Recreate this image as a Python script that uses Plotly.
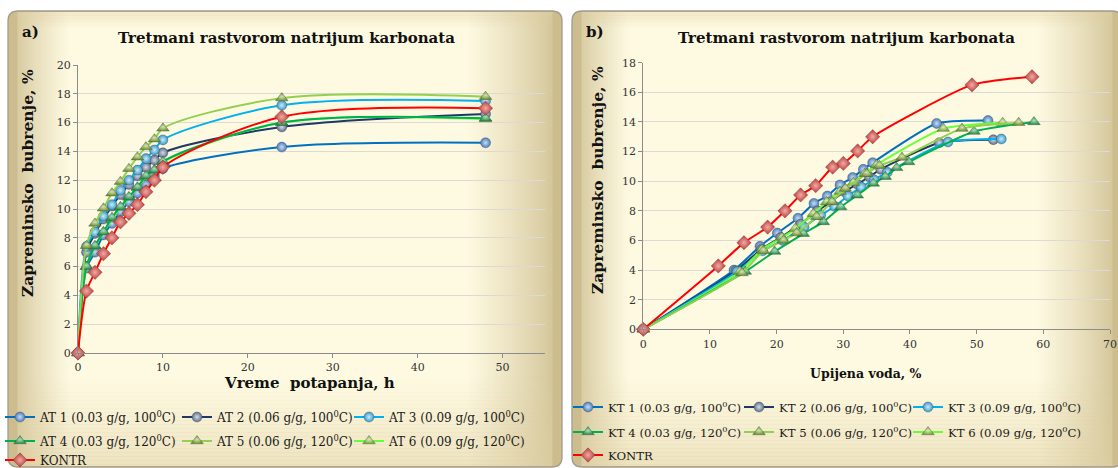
import plotly.graph_objects as go

# ---------------- data ----------------
# panel a: swelling vs immersion time
vreme_h = [0, 1, 2, 3, 4, 5, 6, 7, 8, 9, 10, 24, 48]
at1 = [0, 5.9, 7.0, 8.2, 9.0, 9.8, 10.5, 11.1, 11.7, 12.3, 12.8, 14.3, 14.6]
at2 = [0, 7.0, 8.3, 9.3, 10.2, 11.0, 11.7, 12.3, 12.9, 13.4, 13.9, 15.7, 16.6]
at3 = [0, 7.4, 8.4, 9.5, 10.3, 11.3, 12.0, 12.7, 13.5, 14.1, 14.8, 17.2, 17.5]
at4 = [0, 6.0, 7.45, 8.4, 9.4, 10.15, 10.85, 11.5, 12.3, 12.7, 13.3, 16.0, 16.3]
at5 = [0, 7.45, 9.0, 10.05, 11.1, 11.9, 12.8, 13.6, 14.3, 14.85, 15.6, 17.7, 17.8]
at6 = [0, 6.0, 7.4, 8.4, 9.3, 10.1, 10.8, 11.5, 12.2, 12.7, 13.25, 16.0, 16.25]
kontr_a = [0, 4.3, 5.6, 6.9, 8.0, 9.1, 9.7, 10.3, 11.2, 12.0, 12.9, 16.4, 17.0]

# panel b: swelling vs absorbed water
kt1_x = [0, 13.6, 17.5, 20.1, 23.2, 25.6, 27.6, 29.5, 31.4, 33.0, 34.4, 44.0, 51.7]
kt1_y = [0, 4.0, 5.6, 6.5, 7.5, 8.5, 9.0, 9.75, 10.25, 10.8, 11.25, 13.9, 14.1]
kt2_x = [0, 13.9, 17.7, 20.6, 23.6, 26.1, 28.1, 30.1, 32.1, 33.9, 35.6, 44.4, 52.5]
kt2_y = [0, 3.95, 5.4, 6.2, 7.1, 8.0, 8.6, 9.3, 9.8, 10.3, 10.8, 12.6, 12.8]
kt3_x = [0, 14.1, 17.9, 20.9, 24.1, 26.6, 28.7, 30.7, 32.7, 34.6, 36.6, 45.7, 53.7]
kt3_y = [0, 3.9, 5.3, 6.0, 6.9, 7.7, 8.3, 9.0, 9.6, 10.1, 10.6, 12.65, 12.85]
kt4_x = [0, 15.3, 19.7, 24.0, 27.0, 29.6, 32.1, 34.5, 36.3, 38.0, 39.8, 49.6, 58.6]
kt4_y = [0, 3.9, 5.25, 6.45, 7.25, 8.25, 9.05, 9.85, 10.3, 10.9, 11.3, 13.35, 14.0]
kt5_x = [0, 14.8, 18.0, 21.0, 23.0, 26.0, 28.3, 30.3, 33.5, 35.4, 38.8, 47.8, 56.3]
kt5_y = [0, 3.8, 5.3, 6.0, 6.5, 7.6, 8.6, 9.5, 10.5, 11.05, 11.6, 13.55, 13.95]
kt6_x = [0, 14.5, 17.8, 20.8, 22.8, 25.5, 27.5, 29.5, 31.5, 33.2, 35.0, 45.0, 53.9]
kt6_y = [0, 3.9, 5.4, 6.2, 6.8, 7.8, 8.6, 9.3, 9.9, 10.5, 11.1, 13.55, 13.95]
kontr_bx = [0, 11.25, 15.1, 18.65, 21.25, 23.6, 25.85, 28.4, 30.0, 32.15, 34.4, 49.3, 58.3]
kontr_by = [0, 4.28, 5.85, 6.9, 8.0, 9.07, 9.7, 10.95, 11.2, 12.04, 13.0, 16.5, 17.05]

labels_a = ["AT 1 (0.03 g/g, 100<sup>0</sup>C)", "AT 2 (0.06 g/g, 100<sup>0</sup>C)",
            "AT 3 (0.09 g/g, 100<sup>0</sup>C)", "AT 4 (0.03 g/g, 120<sup>0</sup>C)",
            "AT 5 (0.06 g/g, 120<sup>0</sup>C)", "AT 6 (0.09 g/g, 120<sup>0</sup>C)", "KONTR"]
labels_b = ["KT 1 (0.03 g/g, 100<sup>0</sup>C)", "KT 2 (0.06 g/g, 100<sup>0</sup>C)",
            "KT 3 (0.09 g/g, 100<sup>0</sup>C)", "KT 4 (0.03 g/g, 120<sup>0</sup>C)",
            "KT 5 (0.06 g/g, 120<sup>0</sup>C)", "KT 6 (0.09 g/g, 120<sup>0</sup>C)", "KONTR"]

title_text = "Tretmani rastvorom natrijum karbonata"
ytitle_text = "Zapreminsko  bubrenje, %"

# ---------------- geometry helpers ----------------
W, H = 1118, 468
FONT = "DejaVu Serif"


def px(x):
    return x / W


def py(y):
    return 1 - y / H


def mix(c1, c2, t):
    t = max(0.0, min(1.0, t))
    return "rgb(%d,%d,%d)" % tuple(round(a + (b - a) * t) for a, b in zip(c1, c2))


TAN = (205, 189, 142)
CREAM = (254, 250, 226)


def rounded_path(L, R, T, B, r):
    return (f"M {px(L + r)},{py(T)} L {px(R - r)},{py(T)} "
            f"Q {px(R)},{py(T)} {px(R)},{py(T + r)} L {px(R)},{py(B - r)} "
            f"Q {px(R)},{py(B)} {px(R - r)},{py(B)} L {px(L + r)},{py(B)} "
            f"Q {px(L)},{py(B)} {px(L)},{py(B - r)} L {px(L)},{py(T + r)} "
            f"Q {px(L)},{py(T)} {px(L + r)},{py(T)} Z")


def panel_shapes(L, R, T, B, lfade, rfade, r=10):
    out = []
    common = dict(xref="paper", yref="paper", layer="below", line=dict(width=0))
    out.append(dict(type="path", path=rounded_path(L, R, T, B, r),
                    fillcolor=mix(TAN, CREAM, 0.0), **common))
    # horizontal tone: tan at the sides, cream in the middle
    step = 3
    x = L + r
    while x < R - r:
        x2 = min(x + step, R - r)
        xc = (x + x2) / 2
        t = min((xc - L) / lfade, (R - xc) / rfade, 1.0)
        t = t ** 0.8
        out.append(dict(type="rect", x0=px(x - 0.5), x1=px(x2 + 0.5), y0=py(B - 1), y1=py(T + 1),
                        fillcolor=mix(TAN, CREAM, t), **common))
        x = x2
    # warmer tone toward the bottom (legend area)
    y = 372
    while y < B - 1:
        y2 = min(y + 4, B - 1)
        a = 0.55 * ((y - 372) / (B - 372)) ** 1.2
        out.append(dict(type="rect", x0=px(L + r), x1=px(R - r), y0=py(y2 + 0.5), y1=py(y),
                        fillcolor=f"rgba(222,206,160,{a:.3f})", **common))
        y = y2
    # slight tone at the top edge
    y = T + 1
    while y < T + 16:
        y2 = y + 3
        a = 0.35 * (1 - (y - T) / 16)
        out.append(dict(type="rect", x0=px(L + r), x1=px(R - r), y0=py(y2 + 0.5), y1=py(y),
                        fillcolor=f"rgba(222,206,160,{a:.3f})", **common))
        y = y2
    out.append(dict(type="path", path=rounded_path(L, R, T, B, r), xref="paper", yref="paper",
                    layer="below", fillcolor="rgba(0,0,0,0)", line=dict(color="#A29C8E", width=1.3)))
    return out


# ---------------- marker styles ----------------
def sphere(edge, center, size=10):
    return dict(symbol="circle", size=size, color=edge,
                gradient=dict(type="radial", color=center),
                line=dict(color="rgba(60,70,90,0.6)", width=0.6))


def tri(edge, center, size=11):
    return dict(symbol="triangle-up", size=size, color=edge,
                gradient=dict(type="radial", color=center),
                line=dict(color="rgba(40,80,40,0.6)", width=0.6))


def dia(edge, center, size=11):
    return dict(symbol="diamond", size=size, color=edge,
                gradient=dict(type="radial", color=center),
                line=dict(color="rgba(120,30,30,0.6)", width=0.6))


line_colors = ["#0070C0", "#1F3864", "#00B0F0", "#00B050", "#92D050", "#66FF33", "#FF0000"]
markers = [sphere("#4A7EBB", "#C9DDF2"), sphere("#5F6F88", "#D6DCE6"), sphere("#3A9AC9", "#CDEBF8"),
           tri("#2E8B50", "#A9DEB8"), tri("#74903A", "#D3E5AD"), tri("#7AA43F", "#D9EDB5"),
           dia("#B83E3A", "#F2A9A6")]

fig = go.Figure()

series_a = [at1, at2, at3, at4, at5, at6, kontr_a]
series_b = [(kt1_x, kt1_y), (kt2_x, kt2_y), (kt3_x, kt3_y), (kt4_x, kt4_y),
            (kt5_x, kt5_y), (kt6_x, kt6_y), (kontr_bx, kontr_by)]

# one legend box per entry, laid out as a 3-column grid under each panel
text_cols_a, text_rows_a = [38, 215, 387], [417, 441, 460]
text_cols_b, text_rows_b = [606, 777, 946], [407, 432, 455]
grid = [(0, 0), (1, 0), (2, 0), (0, 1), (1, 1), (2, 1), (0, 2)]


def legend_style(size):
    return dict(orientation="h", xanchor="left", yanchor="middle",
                bgcolor="rgba(0,0,0,0)", itemwidth=30,
                font=dict(family=FONT, size=size, color="#1A1A1A"))


legends = {}


def legend_key(n):
    return "legend" if n == 1 else f"legend{n}"


draw_order = [0, 1, 2, 5, 3, 4, 6]

for i in draw_order:
    key = legend_key(i + 1)
    c, r = grid[i]
    legends[key] = dict(x=px(text_cols_a[c] - 38), y=py(text_rows_a[r]), **legend_style(12))
    fig.add_trace(go.Scatter(
        x=vreme_h, y=series_a[i], name=labels_a[i], mode="lines+markers",
        line=dict(color=line_colors[i], width=2, shape="spline", smoothing=0.9),
        marker=markers[i], cliponaxis=False, legend=key,
        xaxis="x", yaxis="y"))

for i in draw_order:
    key = legend_key(i + 8)
    c, r = grid[i]
    legends[key] = dict(x=px(text_cols_b[c] - 38), y=py(text_rows_b[r]), **legend_style(11.7))
    xs, ys = series_b[i]
    fig.add_trace(go.Scatter(
        x=xs, y=ys, name=labels_b[i], mode="lines+markers",
        line=dict(color=line_colors[i], width=2, shape="spline", smoothing=0.6),
        marker=markers[i], cliponaxis=False, legend=key,
        xaxis="x2", yaxis="y2"))

axis_common = dict(showline=True, linecolor="#8C8C8C", linewidth=1, ticks="outside",
                   ticklen=4, tickcolor="#8C8C8C", zeroline=False,
                   tickfont=dict(family=FONT, size=11, color="#333333"))

shapes = panel_shapes(8, 562, 11, 467, 62, 95) + panel_shapes(572, 1122, 11, 467, 58, 85)


def note(text, x, y, size, angle=0):
    return dict(text=text, x=px(x), y=py(y), xref="paper", yref="paper",
                xanchor="center", yanchor="middle", textangle=angle, showarrow=False,
                font=dict(family=FONT, size=size, color="#111111"))


annotations = [
    note(f"<b>{title_text}</b>", 286, 38, 15),
    note(f"<b>{title_text}</b>", 846, 38, 15),
    note("<b>a)</b>", 30, 32, 15),
    note("<b>b)</b>", 595, 32, 15),
    note(f"<b>{ytitle_text}</b>", 28, 183, 15.5, -90),
    note(f"<b>{ytitle_text}</b>", 598, 180, 15.5, -90),
    note("<b>Vreme  potapanja, h</b>", 309, 383, 15),
    note("<b>Upijena voda, %</b>", 866, 373, 12.5),
]

fig.update_layout(
    width=W, height=H, margin=dict(l=0, r=0, t=0, b=0, autoexpand=False),
    paper_bgcolor="white", plot_bgcolor="rgba(0,0,0,0)",
    shapes=shapes, annotations=annotations, showlegend=True,
    xaxis=dict(domain=[px(78), px(545)], range=[0, 55], dtick=10, showgrid=False,
               anchor="y", **axis_common),
    yaxis=dict(domain=[py(353), py(65)], range=[0, 20], dtick=2, showgrid=True,
               gridcolor="#DCDAD2", gridwidth=1, anchor="x", **axis_common),
    xaxis2=dict(domain=[px(643.3), px(1110)], range=[0, 70], dtick=10, showgrid=False,
                anchor="y2", **axis_common),
    yaxis2=dict(domain=[py(329.3), py(62.7)], range=[0, 18], dtick=2, showgrid=True,
                gridcolor="#DCDAD2", gridwidth=1, anchor="x2", **axis_common),
    **legends,
)

fig.write_html("out.html")
